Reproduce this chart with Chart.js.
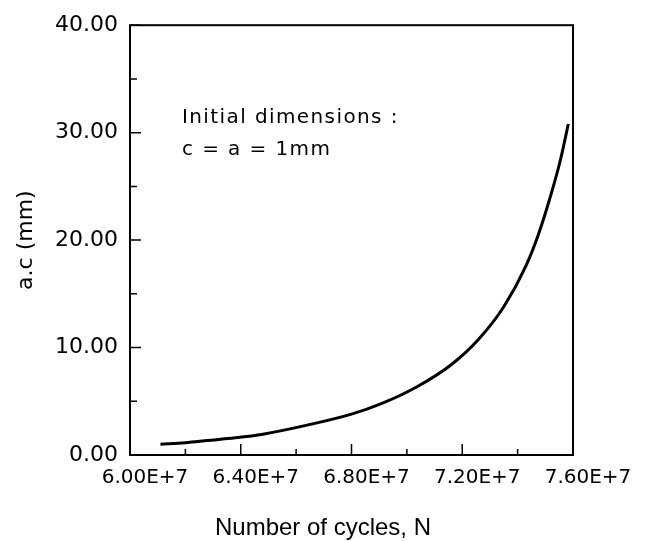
<!DOCTYPE html>
<html lang="en">
<head>
    <meta charset="UTF-8">
    <title>Crack growth</title>
    <script src="https://cdn.jsdelivr.net/npm/chart.js"></script>
    <style>
        html, body {
            margin: 0;
            padding: 0;
            background: #fff;
        }
        .wrap {
            width: 652px;
            height: 541px;
        }
    </style>
</head>
<body>
    <div class="wrap"><canvas id="crackChart"></canvas></div>

    <script>
        // values
        const cycles = [6.11e7, 6.20e7, 6.28e7, 6.38e7, 6.48e7, 6.64e7, 6.80e7, 6.91e7, 7.04e7,
                        7.16e7, 7.26e7, 7.35e7, 7.43e7, 7.476e7, 7.520e7, 7.555e7, 7.583e7];
        const crackSize = [1.0, 1.15, 1.35, 1.6, 1.94, 2.78, 3.8, 4.8, 6.4,
                           8.4, 10.8, 13.8, 17.6, 20.6, 24.2, 27.5, 30.8];
        const noteLines = ['Initial dimensions :', 'c = a = 1mm'];

        const tickFont = 'DejaVu Sans';

        // frame, inward ticks, note and x title
        const framePlugin = {
            id: 'frame',
            afterDraw(chart) {
                const { ctx, chartArea: { left, right, top, bottom }, scales: { x, y } } = chart;
                ctx.save();
                ctx.strokeStyle = '#000';
                ctx.lineWidth = 2;
                ctx.strokeRect(left, top, right - left, bottom - top);

                ctx.lineWidth = 1.5;
                ctx.beginPath();
                x.ticks.forEach(t => {
                    const px = x.getPixelForValue(t.value);
                    const len = t.label ? 11 : 6;
                    ctx.moveTo(px, bottom);
                    ctx.lineTo(px, bottom - len);
                });
                y.ticks.forEach(t => {
                    const py = y.getPixelForValue(t.value);
                    const len = t.label ? 11 : 7;
                    ctx.moveTo(left, py);
                    ctx.lineTo(left + len, py);
                });
                ctx.stroke();

                ctx.fillStyle = '#000';
                ctx.font = '20px "DejaVu Sans"';
                ctx.letterSpacing = '1.4px';
                ctx.textAlign = 'left';
                ctx.textBaseline = 'middle';
                ctx.fillText(noteLines[0], 182, 118);
                ctx.fillText(noteLines[1], 182, 150);

                ctx.letterSpacing = '0px';
                ctx.font = '24px "Liberation Sans"';
                ctx.textAlign = 'center';
                ctx.textBaseline = 'alphabetic';
                ctx.fillText('Number of cycles, N', 323, 535);
                ctx.restore();
            }
        };

        new Chart(document.getElementById('crackChart'), {
            type: 'line',
            data: {
                datasets: [{
                    data: cycles.map((n, i) => ({ x: n, y: crackSize[i] })),
                    borderColor: '#000',
                    borderWidth: 3,
                    pointRadius: 0,
                    fill: false,
                    cubicInterpolationMode: 'monotone'
                }]
            },
            options: {
                responsive: true,
                maintainAspectRatio: false,
                animation: false,
                layout: { padding: { top: 23, right: 79, bottom: 0, left: 0 } },
                plugins: {
                    legend: { display: false },
                    tooltip: { enabled: false }
                },
                scales: {
                    x: {
                        type: 'linear',
                        min: 6.0e7,
                        max: 7.6e7,
                        grid: { display: false, drawTicks: false },
                        border: { display: false },
                        afterFit(scale) { scale.height = 86; },
                        ticks: {
                            stepSize: 2e6,
                            autoSkip: false,
                            maxRotation: 0,
                            padding: 11,
                            labelOffset: 15,
                            color: '#000',
                            font: { family: tickFont, size: 20 },
                            callback: v => Math.round(v / 2e6) % 2 === 0 ? (v / 1e7).toFixed(2) + 'E+7' : ''
                        }
                    },
                    y: {
                        min: 0,
                        max: 40,
                        grid: { display: false, drawTicks: false },
                        border: { display: false },
                        afterFit(scale) { scale.width = 130; },
                        title: {
                            display: true,
                            text: 'a.c (mm)',
                            color: '#000',
                            font: { family: tickFont, size: 22 },
                            padding: { top: 13, bottom: 0 }
                        },
                        ticks: {
                            stepSize: 5,
                            padding: 12,
                            color: '#000',
                            font: { family: tickFont, size: 22 },
                            callback: v => v % 10 === 0 ? v.toFixed(2) : ''
                        }
                    }
                }
            },
            plugins: [framePlugin]
        });
    </script>
</body>
</html>
